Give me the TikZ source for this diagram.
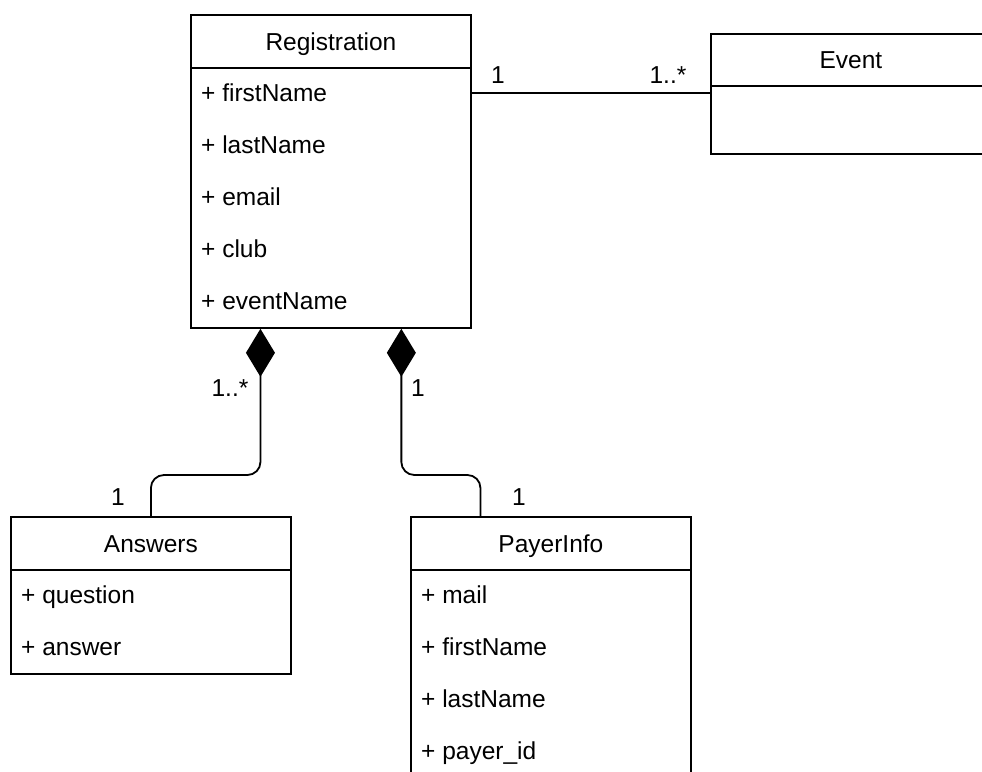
\documentclass[tikz,border=0pt]{standalone}
\usepackage{fontspec}
\setmainfont{Liberation Sans}
\usetikzlibrary{arrows.meta,calc}

\begin{document}
\begin{tikzpicture}[x=1pt,y=-1pt,
  every node/.style={font=\fontsize{24.5}{29}\selectfont, text height=17.5pt, text depth=0pt, inner sep=0pt},
  box/.style={draw, line width=1.8pt, minimum width=280pt, anchor=north west},
  attr/.style={anchor=west},
  mult/.style={anchor=center},
  link/.style={line width=1.8pt},
  comp/.style={line width=1.8pt, rounded corners=13pt,
    {Diamond[length=48pt,width=29pt,fill=black]}-},
]
\useasboundingbox (0,0) rectangle (982,771);
\clip (0,0) rectangle (982,771);

% Registration class
\node[box, minimum height=53pt] (reg) at (190,14) {Registration};
\node[box, minimum height=260pt] (regb) at (190,67) {};
\node[attr] (r1) at (201,93)  {+ firstName};
\node[attr] (r2) at (201,145) {+ lastName};
\node[attr] (r3) at (201,197) {+ email};
\node[attr] (r4) at (201,249) {+ club};
\node[attr] (r5) at (201,301) {+ eventName};

% Event class
\node[box, minimum height=52pt] (ev) at (710,33) {Event};
\node[box, minimum height=68pt] (evb) at (710,85) {};

% Answers class
\node[box, minimum height=53pt] (ans) at (10,516) {Answers};
\node[box, minimum height=104pt] (ansb) at (10,569) {};
\node[attr] (a1) at (21,595) {+ question};
\node[attr] (a2) at (21,647) {+ answer};

% PayerInfo class
\node[box, minimum height=53pt] (pay) at (410,516) {PayerInfo};
\node[box, minimum height=208pt] (payb) at (410,569) {};
\node[attr] (p1) at (421,595) {+ mail};
\node[attr] (p2) at (421,647) {+ firstName};
\node[attr] (p3) at (421,699) {+ lastName};
\node[attr] (p4) at (421,751) {+ payer\_id};

% Association Registration -- Event
\draw[link] (regb.east |- r1) -- (evb.west |- r1);
\node[mult] (m1) at (498,75) {1};
\node[mult] (m2) at (668,75) {1..*};

% Compositions
\coordinate (bend) at (0,475);
\coordinate (ca) at ($(regb.south west)!0.25!(regb.south east)$);
\coordinate (cb) at ($(regb.south west)!0.75!(regb.south east)$);
\coordinate (pa) at ($(pay.north west)!0.25!(pay.north east)$);
\draw[comp] (ca) -- (ca |- bend) -- (ans.north |- bend) -- (ans.north);
\draw[comp] (cb) -- (cb |- bend) -- (pa |- bend) -- (pa);
\node[mult] (m3) at (230,388) {1..*};
\node[mult] (m4) at (418,388) {1};
\node[mult] (m5) at (118,497) {1};
\node[mult] (m6) at (519,497) {1};
\end{tikzpicture}
\end{document}
